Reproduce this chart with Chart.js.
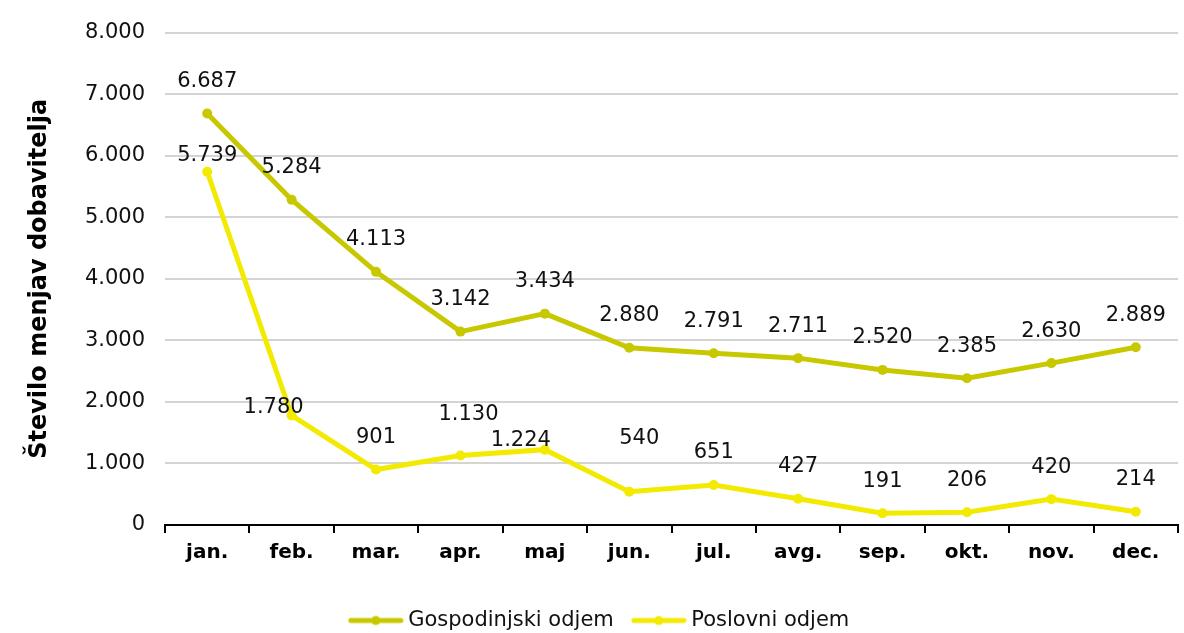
<!DOCTYPE html>
<html>
<head>
<meta charset="utf-8">
<script src="https://cdn.jsdelivr.net/npm/chart.js@4/dist/chart.umd.min.js"></script>
<style>
html,body{margin:0;padding:0;background:#fff;}
#wrap{width:1184px;height:633px;position:relative;}
</style>
</head>
<body>
<div id="wrap"><canvas id="c" width="1184" height="633"></canvas></div>
<script>
const categories = ['jan.','feb.','mar.','apr.','maj','jun.','jul.','avg.','sep.','okt.','nov.','dec.'];
const gospodinjski = [6687,5284,4113,3142,3434,2880,2791,2711,2520,2385,2630,2889];
const poslovni = [5739,1780,901,1130,1224,540,651,427,191,206,420,214];
const seriesNames = ['Gospodinjski odjem','Poslovni odjem'];
const yTicks = [0,1000,2000,3000,4000,5000,6000,7000,8000];

const colG = '#C8C800';
const colP = '#F2EA00';
const FONT = '"DejaVu Sans", sans-serif';

function fmt(v){ return v.toString().replace(/\B(?=(\d{3})+(?!\d))/g,'.'); }

function legendIcon(color){
  const c = document.createElement('canvas');
  c.width = 56; c.height = 14;
  const x = c.getContext('2d');
  x.strokeStyle = color; x.lineWidth = 5; x.lineCap = 'round';
  x.beginPath(); x.moveTo(3,7); x.lineTo(53,7); x.stroke();
  x.fillStyle = color; x.beginPath(); x.arc(28,7,4.5,0,Math.PI*2); x.fill();
  return c;
}

// label adjustments [dx, dy] relative to default "above" placement
const labelAdjust = {
  '1-0': [0, 16],
  '1-1': [-18, 24],
  '1-3': [8, -9],
  '1-4': [-24, 23],
  '1-5': [10, -21]
};

const dataLabels = {
  id:'dataLabels',
  afterDatasetsDraw(chart){
    const ctx = chart.ctx;
    ctx.save();
    ctx.font = '21px ' + FONT;
    ctx.fillStyle = '#111';
    ctx.textAlign = 'center';
    ctx.textBaseline = 'middle';
    chart.data.datasets.forEach((ds, di) => {
      const meta = chart.getDatasetMeta(di);
      meta.data.forEach((pt, i) => {
        const adj = labelAdjust[di + '-' + i] || [0,0];
        ctx.fillText(fmt(ds.data[i]), pt.x + adj[0], pt.y - 32 + adj[1]);
      });
    });
    ctx.restore();
  }
};

const legendHeight = {
  id:'legendHeight',
  afterInit(chart){
    const lg = chart.legend;
    if(!lg) return;
    const f = lg.fit.bind(lg);
    lg.fit = function(){ f(); this.height = 46; };
  }
};

new Chart(document.getElementById('c'), {
  type:'line',
  data:{
    labels:categories,
    datasets:[
      {label:seriesNames[0], data:gospodinjski, borderColor:colG, backgroundColor:colG, borderWidth:5, pointRadius:5, pointBackgroundColor:colG, pointBorderWidth:0, tension:0},
      {label:seriesNames[1], data:poslovni, borderColor:colP, backgroundColor:colP, borderWidth:5, pointRadius:5, pointBackgroundColor:colP, pointBorderWidth:0, tension:0}
    ]
  },
  options:{
    responsive:false,
    animation:false,
    devicePixelRatio:1,
    layout:{padding:{top:20,right:6,left:25,bottom:0}},
    plugins:{
      tooltip:{enabled:false},
      legend:{
        position:'bottom',
        labels:{
          usePointStyle:true,
          pointStyleWidth:44,
          font:{family:FONT,size:21},
          color:'#111',
          padding:23,
          generateLabels(chart){
            return chart.data.datasets.map((ds,i)=>({
              text:ds.label,
              pointStyle:legendIcon(ds.borderColor),
              fillStyle:ds.borderColor,
              strokeStyle:ds.borderColor,
              lineWidth:0,
              hidden:false,
              datasetIndex:i,
              fontColor:'#111'
            }));
          }
        }
      }
    },
    scales:{
      x:{
        offset:true,
        afterFit(axis){ axis.height = 62; },
        grid:{offset:true, drawOnChartArea:false, drawTicks:true, tickLength:8, color:'#000', lineWidth:2},
        border:{display:true, color:'#000', width:2},
        ticks:{font:{family:FONT,size:20,weight:'bold'}, color:'#000', padding:8}
      },
      y:{
        min:0,max:8000,
        afterBuildTicks(axis){ axis.ticks = yTicks.map(v=>({value:v})); },
        afterFit(axis){ axis.width = 140; },
        grid:{color:'#d4d4d4', lineWidth:2, drawTicks:false},
        border:{display:false},
        ticks:{font:{family:FONT,size:21}, color:'#111', padding:20, callback:(v)=>fmt(v)},
        title:{display:true, text:'Število menjav dobavitelja', font:{family:FONT,size:24,weight:'bold'}, color:'#000', padding:{top:0,bottom:0}}
      }
    }
  },
  plugins:[dataLabels, legendHeight]
});
</script>
</body>
</html>
